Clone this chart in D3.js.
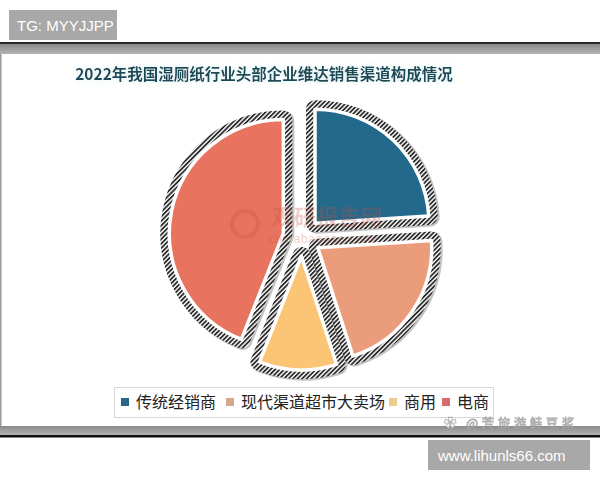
<!DOCTYPE html>
<html><head><meta charset="utf-8">
<script src="https://cdn.jsdelivr.net/npm/d3@7/dist/d3.min.js"></script>
<style>html,body{margin:0;padding:0;background:#fff;}svg{display:block;}</style>
</head><body>
<script>
const title = "2022年我国湿厕纸行业头部企业维达销售渠道构成情况";
const categories = ["传统经销商", "现代渠道超市大卖场", "商用", "电商"];
const values = [24, 21, 11, 44];
const sliceColors = ["#22698c", "#eb9c7b", "#fcc575", "#e8735f"];
const legendColors = ["#2b6486", "#d8a68c", "#eccb8e", "#d86c6d"];

const W = 600, H = 480;
const svg = d3.select("body").append("svg").attr("width", W).attr("height", H);
const defs = svg.append("defs");
const pat = defs.append("pattern").attr("id", "hatch").attr("patternUnits", "userSpaceOnUse")
  .attr("width", 3.2).attr("height", 3.2).attr("patternTransform", "rotate(45)");
pat.append("rect").attr("width", 3.2).attr("height", 3.2).attr("fill", "#fff");
pat.append("rect").attr("width", 1.8).attr("height", 3.2).attr("fill", "#2a2a2a");
const glow = defs.append("filter").attr("id", "glow").attr("x", "-5%").attr("y", "-40%").attr("width", "110%").attr("height", "180%");
glow.append("feGaussianBlur").attr("in", "SourceAlpha").attr("stdDeviation", 3).attr("result", "b");
glow.append("feFlood").attr("flood-color", "#bfe3ea").attr("flood-opacity", 0.6);
glow.append("feComposite").attr("in2", "b").attr("operator", "in").attr("result", "g");
const m = glow.append("feMerge"); m.append("feMergeNode").attr("in", "g"); m.append("feMergeNode").attr("in", "SourceGraphic");

// frame
svg.append("rect").attr("x", 0).attr("y", 42).attr("width", W).attr("height", 2).attr("fill", "#2a2a2a");
const gTop = defs.append("linearGradient").attr("id", "gband").attr("x1", 0).attr("y1", 0).attr("x2", 0).attr("y2", 1);
gTop.append("stop").attr("offset", "0").attr("stop-color", "#8a8a8a");
gTop.append("stop").attr("offset", "1").attr("stop-color", "#b3b3b3");
svg.append("rect").attr("x", 0).attr("y", 44).attr("width", W).attr("height", 10).attr("fill", "url(#gband)");
svg.append("rect").attr("x", 0).attr("y", 54).attr("width", 1.5).attr("height", 372).attr("fill", "#9a9a9a");
svg.append("rect").attr("x", 0).attr("y", 426).attr("width", W).attr("height", 9).attr("fill", "url(#gband)");
svg.append("rect").attr("x", 0).attr("y", 435).attr("width", W).attr("height", 2.5).attr("fill", "#111");

// title
svg.append("text").attr("x", 264).attr("y", 80).attr("text-anchor", "middle")
  .attr("font-family", "'Noto Sans CJK SC', sans-serif").attr("font-weight", "bold")
  .attr("font-size", 15.5).attr("fill", "#1d4a56").attr("filter", "url(#glow)").text(title);

// pie
const cx = 302, cy = 237, R = 114, explode = 19;
const pie = d3.pie().sort(null).value(d => d)(values);
const arc = d3.arc().innerRadius(0).outerRadius(R);
const g = svg.append("g").attr("transform", `translate(${cx},${cy})`);
const slices = g.selectAll("g.s").data(pie).join("g").attr("class", "s")
  .attr("transform", d => {
    const a = (d.startAngle + d.endAngle) / 2;
    return `translate(${Math.sin(a) * explode},${-Math.cos(a) * explode})`;
  });
slices.append("path").attr("d", arc).attr("fill", "none").attr("stroke", "#111").attr("stroke-opacity", 0.25)
  .attr("stroke-width", 19).attr("stroke-linejoin", "round").attr("transform", "translate(1.5,1)");
slices.append("path").attr("d", arc).attr("fill", "url(#hatch)").attr("stroke", "url(#hatch)")
  .attr("stroke-width", 18).attr("stroke-linejoin", "round");
slices.append("path").attr("d", arc).attr("fill", (d, i) => sliceColors[i])
  .attr("stroke", "#fff").attr("stroke-width", 3.5).attr("stroke-linejoin", "round");

// center watermark
svg.append("text").attr("x", 272).attr("y", 225).attr("font-family", "'Noto Sans CJK SC', sans-serif")
  .attr("font-weight", "bold").attr("font-size", 22).attr("fill", "#c0503c").attr("fill-opacity", 0.28).text("观研报告网");
svg.append("text").attr("x", 268).attr("y", 243).attr("font-family", "'DejaVu Sans', sans-serif")
  .attr("font-size", 12).attr("fill", "#c0503c").attr("fill-opacity", 0.28).text("chinabaogao.com");
svg.append("circle").attr("cx", 245).attr("cy", 224).attr("r", 13).attr("fill", "none")
  .attr("stroke", "#c0503c").attr("stroke-opacity", 0.25).attr("stroke-width", 4);

// legend
const lg = svg.append("g");
lg.append("rect").attr("x", 114.5).attr("y", 387.5).attr("width", 379).attr("height", 30)
  .attr("fill", "#fff").attr("stroke", "#d8d8d8");
const itemX = [121, 226, 389, 442];
categories.forEach((c, i) => {
  lg.append("rect").attr("x", itemX[i]).attr("y", 398).attr("width", 8).attr("height", 8).attr("fill", legendColors[i]);
  lg.append("text").attr("x", itemX[i] + 15).attr("y", 408).attr("font-family", "'Noto Sans CJK SC', sans-serif")
    .attr("font-size", 16).attr("fill", "#222").text(c);
});

// corner watermark
svg.append("text").attr("x", 444).attr("y", 428).attr("font-family", "'Noto Sans CJK SC', sans-serif")
  .attr("font-size", 12.5).attr("letter-spacing", 3.5).attr("fill", "#fff").attr("stroke", "#9a9a9a").attr("stroke-width", 0.8)
  .attr("opacity", 0.8).text("✿ @芳旅游鲑豆浆");

// badges
svg.append("rect").attr("x", 9).attr("y", 10).attr("width", 108).attr("height", 30).attr("fill", "#a8a8a8");
svg.append("text").attr("x", 17).attr("y", 30.5).attr("font-family", "'Liberation Sans', Arial, sans-serif")
  .attr("font-size", 15).attr("fill", "#fff").text("TG: MYYJJPP");
svg.append("rect").attr("x", 428).attr("y", 440).attr("width", 162).attr("height", 30).attr("fill", "#a8a8a8");
svg.append("text").attr("x", 438).attr("y", 461).attr("font-family", "'Liberation Sans', Arial, sans-serif")
  .attr("font-size", 15).attr("fill", "#fff").text("www.lihunls66.com");
</script>
</body></html>
